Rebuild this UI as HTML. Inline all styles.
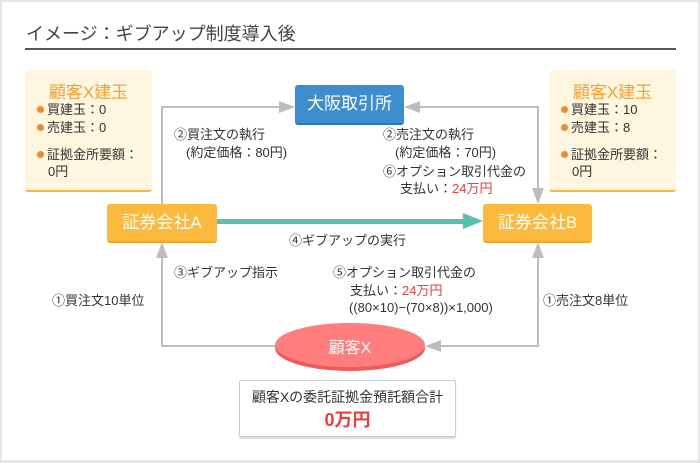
<!DOCTYPE html>
<html><head><meta charset="utf-8"><style>
body{margin:0;width:700px;height:463px;background:#e6e6e6;font-family:"Liberation Sans","Noto Sans CJK JP",sans-serif;color:#333;overflow:hidden}
#f{position:absolute;left:2px;top:2px;width:696px;height:458px;background:#fff}
.a{position:absolute;white-space:nowrap}
.s{font-size:13px;line-height:17px}
.box{position:absolute;background:#fff6e0;border-bottom:2px solid #f5b73f;border-radius:3px}
.nd{position:absolute;color:#fff;font-size:16px;text-align:center;border-radius:3px}
.r{color:#f03c3c}
.dot{display:inline-block;width:7px;height:7px;border-radius:50%;background:#ef8a32;margin-right:3px;vertical-align:1px}
</style></head><body><div id="f"></div>
<div class="a" style="left:26px;top:20px;font-size:18px;color:#444">イメージ：ギブアップ制度導入後</div>
<div class="a" style="left:25px;top:48px;width:651px;height:2px;background:#555"></div>

<div class="box" style="left:25px;top:70px;width:127px;height:120px"></div>
<div class="a" style="left:25px;top:78px;width:127px;text-align:center;font-size:17px;color:#f5a033">顧客X建玉</div>
<div class="a s" style="left:37px;top:101px"><span class="dot"></span>買建玉：0</div>
<div class="a s" style="left:37px;top:119px"><span class="dot"></span>売建玉：0</div>
<div class="a s" style="left:37px;top:146px"><span class="dot"></span>証拠金所要額：</div>
<div class="a s" style="left:48px;top:163px">0円</div>

<div class="box" style="left:549px;top:70px;width:127px;height:120px"></div>
<div class="a" style="left:549px;top:78px;width:127px;text-align:center;font-size:17px;color:#f5a033">顧客X建玉</div>
<div class="a s" style="left:561px;top:101px"><span class="dot"></span>買建玉：10</div>
<div class="a s" style="left:561px;top:119px"><span class="dot"></span>売建玉：8</div>
<div class="a s" style="left:561px;top:146px"><span class="dot"></span>証拠金所要額：</div>
<div class="a s" style="left:572px;top:163px">0円</div>

<svg class="a" style="left:0;top:0" width="700" height="463">
<g stroke="#bdbdbd" stroke-width="2" fill="none">
<polyline points="162,204 162,107 280,107"/>
<polyline points="420,107 538,107 538,190"/>
<polyline points="162,256 162,346 280,346"/>
<polyline points="538,256 538,346 440,346"/>
</g>
<g fill="#bdbdbd">
<polygon points="295,107 279,101 279,113"/>
<polygon points="404,107 420,101 420,113"/>
<polygon points="538,204 532,188 544,188"/>
<polygon points="162,242 156,258 168,258"/>
<polygon points="538,242 532,258 544,258"/>
<polygon points="425,346 441,340 441,352"/>
</g>
<rect x="217" y="219" width="250" height="5" fill="#5bbfb0"/>
<polygon points="483,221 463,213 463,229" fill="#5bbfb0"/>
<ellipse cx="350" cy="348" rx="75" ry="23" fill="#f05a5a"/>
<ellipse cx="350" cy="345" rx="75" ry="22" fill="#ff7d7d"/>
</svg>

<div class="nd" style="left:295px;top:85px;width:109px;height:38px;line-height:38px;background:#3e8ecf;border-bottom:2px solid #2f76b3;font-size:17px">大阪取引所</div>
<div class="nd" style="left:107px;top:204px;width:110px;height:37px;line-height:37px;background:#fbb93e;border-bottom:2px solid #f0a72c;font-size:17px">証券会社A</div>
<div class="nd" style="left:483px;top:204px;width:109px;height:37px;line-height:37px;background:#fbb93e;border-bottom:2px solid #f0a72c;font-size:17px">証券会社B</div>
<div class="a" style="left:275px;top:334px;width:150px;text-align:center;color:#fff;font-size:16px">顧客X</div>

<div class="a s" style="left:174px;top:126px">②買注文の執行</div>
<div class="a s" style="left:186px;top:144px">(約定価格：80円)</div>
<div class="a s" style="left:383px;top:126px">②売注文の執行</div>
<div class="a s" style="left:395px;top:144px">(約定価格：70円)</div>
<div class="a s" style="left:383px;top:163px">⑥オプション取引代金の</div>
<div class="a s" style="left:400px;top:180px">支払い：<span class="r">24万円</span></div>
<div class="a s" style="left:289px;top:232px">④ギブアップの実行</div>
<div class="a s" style="left:174px;top:264px">③ギブアップ指示</div>
<div class="a s" style="left:333px;top:264px">⑤オプション取引代金の</div>
<div class="a s" style="left:350px;top:282px">支払い：<span class="r">24万円</span></div>
<div class="a s" style="left:349px;top:299px">((80×10)−(70×8))×1,000)</div>
<div class="a s" style="left:52px;top:292px">①買注文10単位</div>
<div class="a s" style="left:543px;top:292px">①売注文8単位</div>

<div class="a" style="left:239px;top:380px;width:215px;height:55px;border:1px solid #ccc;border-radius:2px;box-shadow:0 2px 1px #ddd;background:#fff"></div>
<div class="a" style="left:239px;top:387px;width:217px;text-align:center;font-size:14px">顧客Xの委託証拠金預託額合計</div>
<div class="a r" style="left:239px;top:406px;width:217px;text-align:center;font-size:18px;font-weight:bold">0万円</div>
</body></html>
